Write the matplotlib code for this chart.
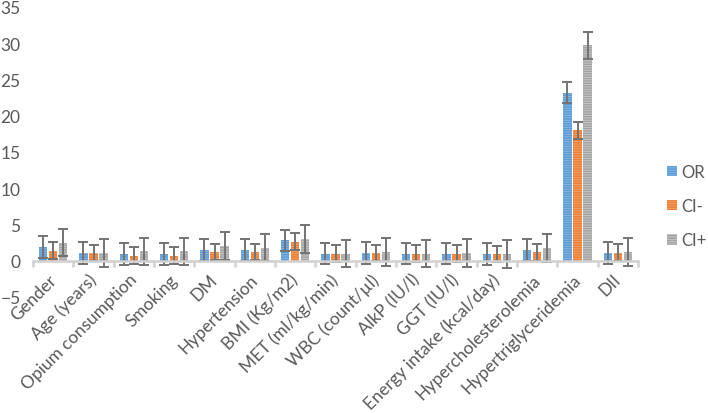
import numpy as np
import matplotlib
matplotlib.use("Agg")
import matplotlib.pyplot as plt
from matplotlib.transforms import ScaledTranslation

# data
categories = ["Gender", "Age (years)", "Opium consumption", "Smoking", "DM",
              "Hypertension", "BMI (Kg/m2)", "MET (ml/kg/min)", "WBC (count/\u00b5l)",
              "AlkP (IU/l)", "GGT (IU/l)", "Energy intake (kcal/day)",
              "Hypercholesterolemia", "Hypertriglyceridemia", "DII"]
or_vals = [1.9, 1.05, 0.95, 0.95, 1.5, 1.5, 2.8, 1.0, 1.1, 1.0, 1.0, 0.95, 1.45, 23.2, 1.1]
ci_low = [1.4, 1.05, 0.7, 0.7, 1.2, 1.2, 2.65, 1.0, 1.05, 1.0, 1.0, 0.95, 1.15, 18.0, 1.1]
ci_high = [2.5, 1.05, 1.3, 1.3, 2.0, 1.8, 3.0, 1.0, 1.2, 1.0, 1.1, 0.95, 1.75, 29.7, 1.2]
# Excel-style fixed error amounts per series
err_or = 1.5
err_low = 1.15
err_high = 1.9

series = [
    ("OR", or_vals, err_or, "#5B9BD5", "#8DBBE6"),
    ("CI-", ci_low, err_low, "#ED7D31", "#F5A874"),
    ("CI+", ci_high, err_high, "#A5A5A5", "#C8C8C8"),
]

plt.rcParams["font.family"] = ["Lato", "DejaVu Sans"]
plt.rcParams["hatch.linewidth"] = 0.6

fig = plt.figure(figsize=(7.08, 4.14), dpi=100)
ax = fig.add_axes([33 / 708, 1 - 298 / 414, 605 / 708, 290 / 414])

x = np.arange(len(categories))
offsets = [-0.25, 0.0, 0.25]
handles = []
for (name, vals, err, color, stripe), off in zip(series, offsets):
    b = ax.bar(x + off, vals, width=0.21, color=color, edgecolor=stripe,
               linewidth=0, hatch="-------", label=name,
               yerr=err, error_kw=dict(ecolor="#737373", elinewidth=1.4,
                                       capsize=3.3, capthick=1.4))
    handles.append(b)

ax.set_xlim(-0.5, len(categories) - 0.5)
ax.set_ylim(-5, 35)
ax.set_yticks(range(-5, 36, 5))

for s in ["left", "right", "top"]:
    ax.spines[s].set_visible(False)
ax.spines["bottom"].set_position(("data", 0))
ax.spines["bottom"].set_color("#D0D0D0")
ax.spines["bottom"].set_linewidth(1.8)

ax.set_xticks(x)
ax.set_xticklabels(categories, rotation=45, ha="right", va="baseline",
                   rotation_mode="anchor")
ax.set_xticks(np.arange(-0.5, len(categories), 1.0), minor=True)
ax.tick_params(axis="x", which="major", length=0, pad=14, labelsize=12.5,
               labelcolor="#595959")
ax.tick_params(axis="x", which="minor", length=4, width=1.8, color="#D0D0D0")
ax.tick_params(axis="y", length=0, pad=9, labelsize=12.5, labelcolor="#595959")

# nudge rotated labels so the text end sits just right of the category centre
shift = ScaledTranslation(4 / 100, 0, fig.dpi_scale_trans)
for lab in ax.get_xticklabels():
    lab.set_transform(lab.get_transform() + shift)

leg = fig.legend(handles=handles, loc="center left",
                 bbox_to_anchor=(667 / 708, 0.5), frameon=False,
                 fontsize=12, labelspacing=1.1, handlelength=0.6,
                 handleheight=0.6, handletextpad=0.25, borderpad=0,
                 borderaxespad=0)
for t in leg.get_texts():
    t.set_color("#595959")

fig.savefig("out.png", dpi=100)
